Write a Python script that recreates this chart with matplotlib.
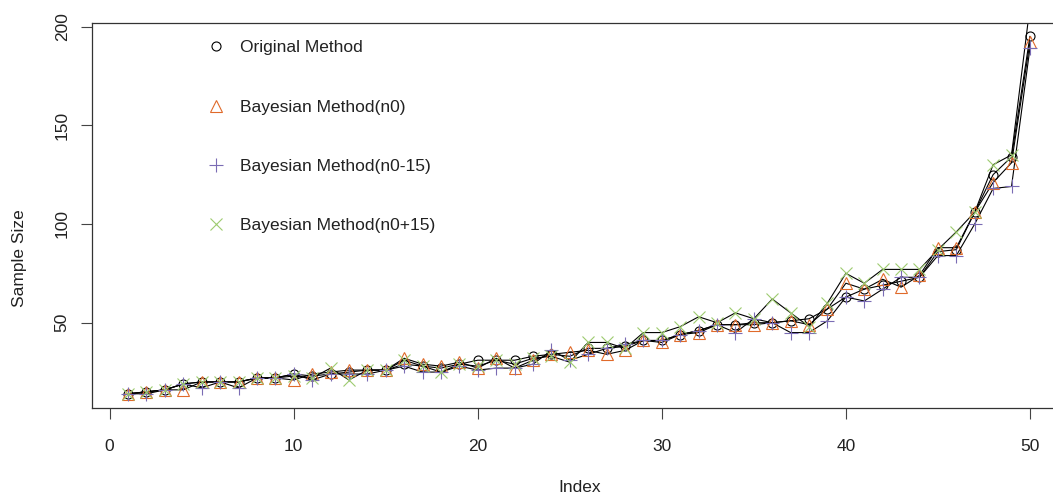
import numpy as np
import matplotlib
matplotlib.use("Agg")
import matplotlib.pyplot as plt
from matplotlib.lines import Line2D

plt.rcParams['font.family'] = ['Liberation Sans', 'DejaVu Sans']

# data
index = np.arange(1, 51)
original = [14, 15, 16, 19, 20, 20, 20, 22, 22, 24,
            23, 24, 25, 26, 26, 29, 28, 27, 29, 31,
            31, 31, 33, 34, 33, 37, 37, 38, 41, 41,
            44, 46, 49, 49, 50, 50, 51, 52, 57, 63,
            67, 69, 71, 73, 86, 87, 106, 125, 134, 195]
bayes_n0 = [14, 15, 16, 16, 20, 20, 20, 22, 22, 21,
            24, 25, 26, 26, 26, 32, 29, 28, 30, 27,
            32, 27, 31, 34, 35, 36, 34, 36, 41, 40,
            44, 45, 49, 49, 49, 50, 51, 49, 57, 70,
            67, 72, 68, 74, 88, 88, 106, 121, 131, 192]
bayes_minus = [14, 14, 16, 19, 17, 20, 17, 22, 22, 24,
               21, 24, 24, 24, 26, 28, 25, 25, 28, 26,
               27, 27, 29, 36, 31, 34, 37, 39, 41, 41,
               44, 46, 49, 45, 52, 50, 45, 45, 51, 63,
               61, 67, 73, 73, 84, 84, 100, 118, 119, 189]
bayes_plus = [14, 15, 16, 19, 20, 20, 20, 22, 22, 23,
              22, 27, 21, 26, 26, 31, 28, 25, 29, 28,
              31, 29, 32, 33, 30, 40, 40, 37, 45, 45,
              48, 53, 50, 55, 52, 62, 55, 48, 60, 75,
              70, 77, 77, 77, 87, 96, 106, 130, 135, 210]

labels = ["Original Method", "Bayesian Method(n0)",
          "Bayesian Method(n0-15)", "Bayesian Method(n0+15)"]
colors = ["black", "#E06A2A", "#7A6CB4", "#9DCB6F"]
markers = ["o", "^", "+", "x"]
sizes = [6.5, 8.5, 10, 8]
series = [original, bayes_n0, bayes_minus, bayes_plus]

W, H = 1053, 495
fig = plt.figure(figsize=(W / 100, H / 100), dpi=100)
ax = fig.add_axes([92 / W, 1 - 408 / H, (1066 - 92) / W, (408 - 23) / H])

for ys in series:
    ax.plot(index, ys, color="black", lw=0.8, zorder=2)
for ys, c, m, s in zip(series, colors, markers, sizes):
    ax.plot(index, ys, ls="none", marker=m, ms=s, mfc="none", mec=c,
            mew=0.8, zorder=3)

ax.set_xlim(-0.96, 51.96)
ax.set_ylim(6.8, 201.8)
ax.set_xticks([0, 10, 20, 30, 40, 50])
ax.set_yticks([50, 100, 150, 200])
ax.tick_params(axis="both", labelsize=12.5, length=8, width=0.8,
               color="#444444", labelcolor="#222222")
ax.tick_params(axis="x", pad=14)
ax.tick_params(axis="y", pad=8)
for lab in ax.get_yticklabels():
    lab.set_rotation(90)
    lab.set_va("center")
for sp in ax.spines.values():
    sp.set_linewidth(0.9)
    sp.set_color("#333333")
ax.spines["right"].set_visible(False)

fig.text(20 / W, 1 - 258 / H, "Sample Size", rotation=90, fontsize=12.5,
         ha="center", va="center", color="#222222")
fig.text(580 / W, 1 - 487 / H, "Index", fontsize=12.5, ha="center",
         va="center", color="#222222")

handles = [Line2D([], [], ls="none", marker=m, ms=s, mfc="none", mec=c, mew=0.8)
           for c, m, s in zip(colors, markers, sizes)]
ax.legend(handles, labels, loc="upper left", frameon=False, fontsize=12.5,
          bbox_to_anchor=(207 / W, 1 - 40 / H), bbox_transform=fig.transFigure,
          borderpad=0, borderaxespad=0, handlelength=1.0, handletextpad=0.9,
          labelspacing=2.55, labelcolor="#222222")

fig.savefig("out.png", dpi=100)
